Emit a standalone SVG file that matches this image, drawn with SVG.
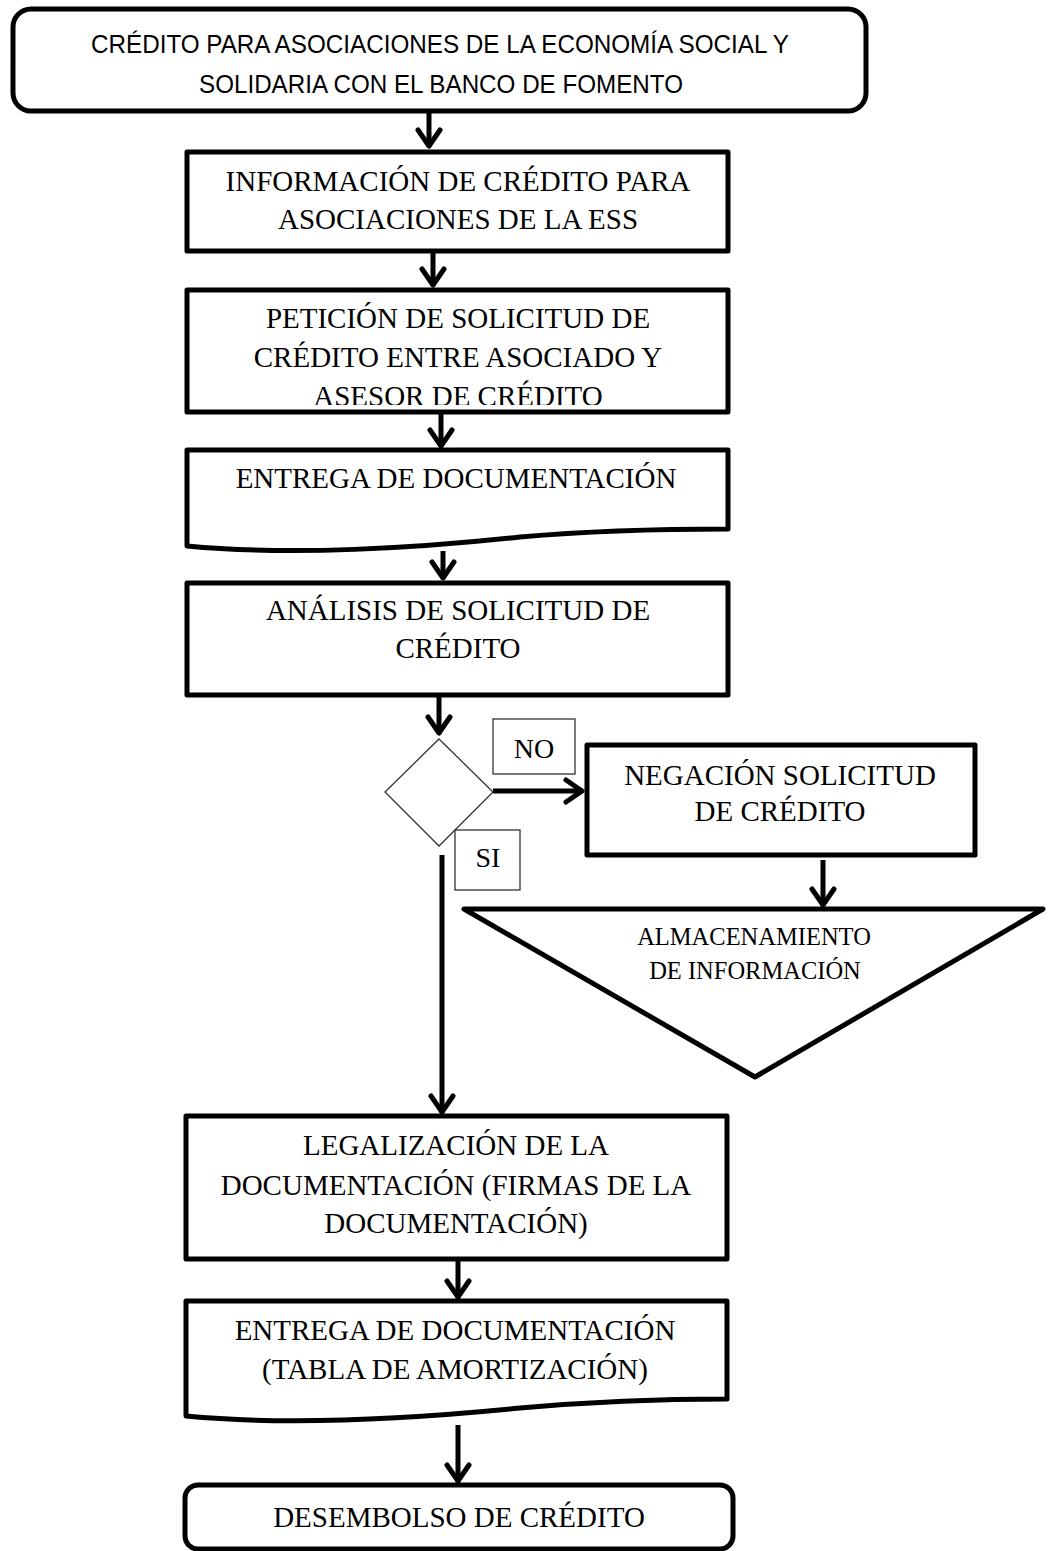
<svg xmlns="http://www.w3.org/2000/svg" width="1048" height="1551" viewBox="0 0 1048 1551">
<style>
.shape{fill:#fff;stroke:#000;stroke-width:5;stroke-linejoin:round}
.thin{fill:#fff;stroke:#333;stroke-width:1.3}
.t{font-family:"Liberation Serif","Times New Roman",serif;font-size:29px;fill:#000;text-anchor:middle}
.tl{font-family:"Liberation Serif","Times New Roman",serif;font-size:28px;fill:#000;text-anchor:middle}
.ts{font-family:"Liberation Serif","Times New Roman",serif;font-size:24.5px;fill:#000;text-anchor:middle}
.c{font-family:"Liberation Sans",Arial,sans-serif;font-size:25px;fill:#000;text-anchor:middle}
.conn{fill:none;stroke:#000;stroke-width:5}
</style>
<defs>
<marker id="ah" markerUnits="userSpaceOnUse" markerWidth="40" markerHeight="40" refX="0" refY="0" orient="auto" overflow="visible">
<path d="M-17,-11 L-1,0 L-17,11" fill="none" stroke="#000" stroke-width="5" stroke-linejoin="round" stroke-linecap="round"/>
</marker>
<clipPath id="clipPet"><rect x="187" y="290" width="541" height="115"/></clipPath>
</defs>
<rect width="1048" height="1551" fill="#fff"/>

<g id="connectors">
<line class="conn" x1="429" y1="113" x2="429" y2="147" marker-end="url(#ah)"/>
<line class="conn" x1="433" y1="252" x2="433" y2="286" marker-end="url(#ah)"/>
<line class="conn" x1="441" y1="413" x2="441" y2="447" marker-end="url(#ah)"/>
<line class="conn" x1="443" y1="551" x2="443" y2="579" marker-end="url(#ah)"/>
<line class="conn" x1="439" y1="697" x2="439" y2="734" marker-end="url(#ah)"/>
<line class="conn" x1="493" y1="791" x2="583" y2="791" marker-end="url(#ah)"/>
<line class="conn" x1="823" y1="860" x2="823" y2="906" marker-end="url(#ah)"/>
<line class="conn" x1="442" y1="855" x2="442" y2="1113" marker-end="url(#ah)"/>
<line class="conn" x1="458" y1="1260" x2="458" y2="1298" marker-end="url(#ah)"/>
<line class="conn" x1="458" y1="1425" x2="458" y2="1482" marker-end="url(#ah)"/>
</g>

<g id="start">
<rect class="shape" x="13" y="9" width="853" height="102" rx="18" ry="18"/>
<text class="c" x="440" y="53" textLength="698" lengthAdjust="spacingAndGlyphs">CRÉDITO PARA ASOCIACIONES DE LA ECONOMÍA SOCIAL  Y</text>
<text class="c" x="441" y="93" textLength="484" lengthAdjust="spacingAndGlyphs">SOLIDARIA CON EL BANCO DE FOMENTO</text>
</g>

<g id="informacion">
<rect class="shape" x="187" y="152" width="541" height="99"/>
<text class="t" x="458" y="191">INFORMACIÓN DE CRÉDITO PARA</text>
<text class="t" x="458" y="229">ASOCIACIONES DE LA ESS</text>
</g>

<g id="peticion">
<rect class="shape" x="187" y="290" width="541" height="122"/>
<g clip-path="url(#clipPet)">
<text class="t" x="458" y="328">PETICIÓN DE SOLICITUD DE</text>
<text class="t" x="458" y="367">CRÉDITO ENTRE ASOCIADO Y</text>
<text class="t" x="458" y="406">ASESOR DE CRÉDITO</text>
</g>
</g>

<g id="entrega1">
<path class="shape" d="M187,450 L728,450 L728,529 C680,529 600,530 520,537 C420,548 290,556 187,546 Z"/>
<text class="t" x="456" y="488">ENTREGA DE DOCUMENTACIÓN</text>
</g>

<g id="analisis">
<rect class="shape" x="187" y="583" width="541" height="112"/>
<text class="t" x="458" y="620">ANÁLISIS DE SOLICITUD DE</text>
<text class="t" x="458" y="658">CRÉDITO</text>
</g>

<g id="decision">
<polygon class="thin" points="439,739 493,792 439,846 385,792"/>
</g>

<g id="label-no">
<rect class="thin" x="493" y="719" width="82" height="55"/>
<text class="tl" x="534" y="758">NO</text>
</g>

<g id="label-si">
<rect class="thin" x="455" y="830" width="65" height="60"/>
<text class="tl" x="488" y="867">SI</text>
</g>

<g id="negacion">
<rect class="shape" x="587" y="745" width="388" height="110"/>
<text class="t" x="780" y="785">NEGACIÓN SOLICITUD</text>
<text class="t" x="780" y="821">DE CRÉDITO</text>
</g>

<g id="almacenamiento">
<polygon class="shape" points="464,909 1043,909 755,1077"/>
<text class="ts" x="754" y="945">ALMACENAMIENTO</text>
<text class="ts" x="755" y="979">DE INFORMACIÓN</text>
</g>

<g id="legalizacion">
<rect class="shape" x="186" y="1116" width="541" height="143"/>
<text class="t" x="456" y="1155">LEGALIZACIÓN DE LA</text>
<text class="t" x="456" y="1195">DOCUMENTACIÓN (FIRMAS DE LA</text>
<text class="t" x="456" y="1233">DOCUMENTACIÓN)</text>
</g>

<g id="entrega2">
<path class="shape" d="M186,1301 L727,1301 L727,1399 C680,1399 600,1401 520,1408 C420,1418 290,1426 186,1416 Z"/>
<text class="t" x="455" y="1340">ENTREGA DE DOCUMENTACIÓN</text>
<text class="t" x="455" y="1379">(TABLA DE AMORTIZACIÓN)</text>
</g>

<g id="desembolso">
<rect class="shape" x="185" y="1485" width="548" height="64" rx="13" ry="13"/>
<text class="t" x="459" y="1527">DESEMBOLSO DE CRÉDITO</text>
</g>
</svg>
